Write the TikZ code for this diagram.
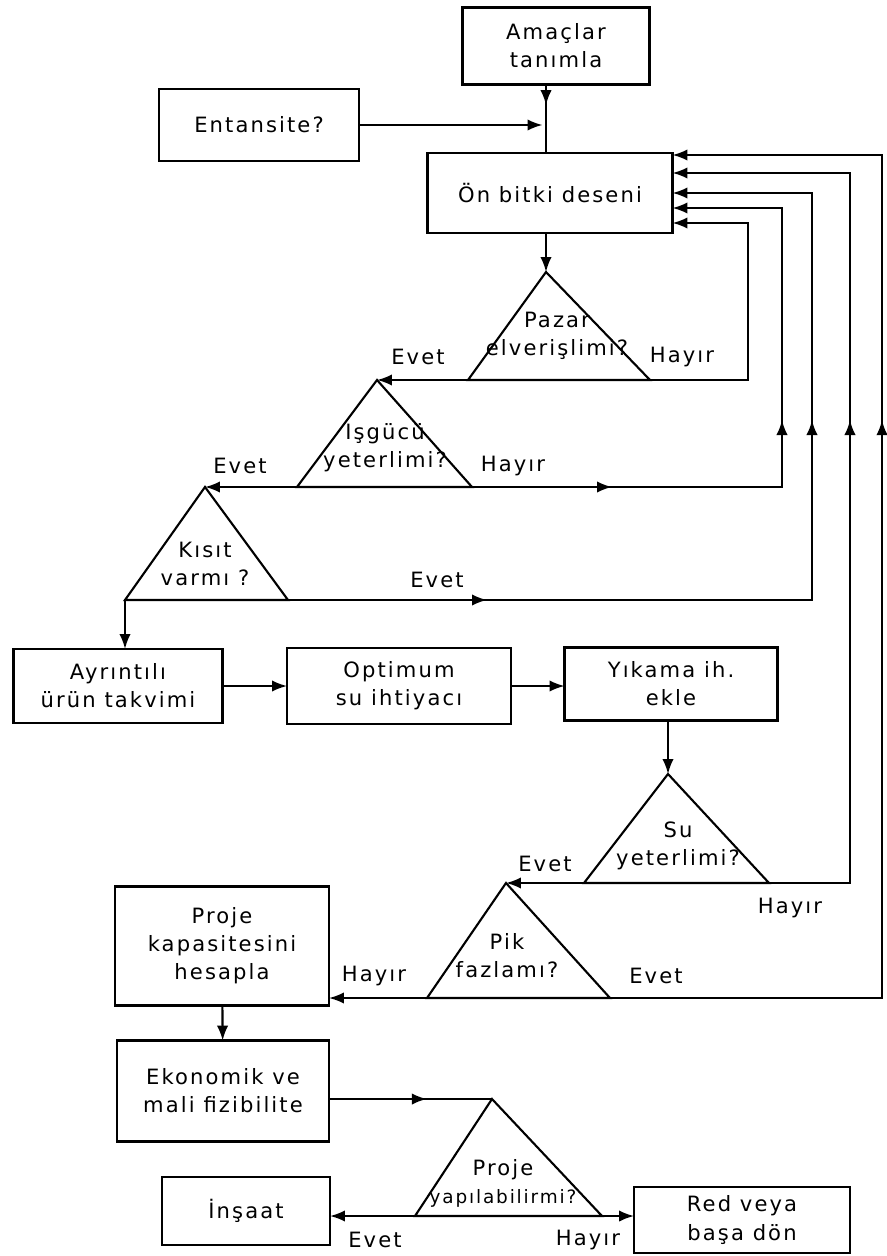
\documentclass[tikz,border=0pt]{standalone}
\usepackage{fontspec}
\usepackage{tikz}
\usetikzlibrary{arrows.meta,decorations.markings,calc}
\newfontfamily\lett[LetterSpace=10]{DejaVu Sans}

\begin{document}
\begin{tikzpicture}[x=0.02cm,y=-0.02cm,very thick,>={Latex[length=8.5pt,width=6.5pt]},
  every node/.style={font=\lett\fontsize{12}{16}\selectfont},
  midarrow/.style={postaction={decorate,decoration={markings,
      mark=at position #1 with {\arrow{Latex[length=8.5pt,width=6.5pt]}}}}}]

    \tikzstyle{box} = [rectangle,draw,align=center,outer sep=0pt]
    \tikzstyle{question} = [align=center,inner sep=1pt]

  \useasboundingbox (0,0) rectangle (886,1256);

  % boxes
  \node[box,minimum width=3.74cm,minimum height=1.54cm] (1) at (556,46) {Amaçlar\\tanımla};
  \node[box,minimum width=4cm,minimum height=1.44cm] (2) at (259,125) {Entansite?};
  \node[box,minimum width=4.9cm,minimum height=1.6cm] (3) at (550,193) {Ön bitki deseni};
  \node[box,minimum width=4.18cm,minimum height=1.48cm] (4) at (118,686) {Ayrıntılı\\ürün takvimi};
  \node[box,minimum width=4.48cm,minimum height=1.52cm] (5) at (399,686) {Optimum\\su ihtiyacı};
  \node[box,minimum width=4.26cm,minimum height=1.46cm] (6) at (671,684) {Yıkama ih.\\ekle};
  \node[box,minimum width=4.28cm,minimum height=2.38cm] (7) at (222,946) {Proje\\kapasitesini\\hesapla};
  \node[box,minimum width=4.24cm,minimum height=2.02cm] (8) at (223,1091) {Ekonomik ve\\mali fizibilite};
  \node[box,minimum width=3.36cm,minimum height=1.36cm] (9) at (246,1211) {İnşaat};
  \node[box,minimum width=4.32cm,minimum height=1.32cm] (10) at (742,1220) {Red veya\\başa dön};

  % decision triangles
  \coordinate (t1) at (546,272); \coordinate (l1) at (468,380); \coordinate (r1) at (650,380);
  \coordinate (t2) at (377,380); \coordinate (l2) at (297,487); \coordinate (r2) at (472,487);
  \coordinate (t3) at (205,487); \coordinate (l3) at (125,600); \coordinate (r3) at (288,600);
  \coordinate (t4) at (668,774); \coordinate (l4) at (584,883); \coordinate (r4) at (769,883);
  \coordinate (t5) at (506,883); \coordinate (l5) at (427,998); \coordinate (r5) at (610,998);
  \coordinate (t6) at (492,1099); \coordinate (l6) at (415,1216); \coordinate (r6) at (602,1216);

  \draw (t1) -- (l1) -- (r1) -- cycle;
  \draw (t2) -- (l2) -- (r2) -- cycle;
  \draw (t3) -- (l3) -- (r3) -- cycle;
  \draw (t4) -- (l4) -- (r4) -- cycle;
  \draw (t5) -- (l5) -- (r5) -- cycle;
  \draw (t6) -- (l6) -- (r6) -- cycle;

  \node[question] (q1) at (557,336) {Pazar\\elverişlimi?};
  \node[question] (q2) at (385,448) {Işgücü\\yeterlimi?};
  \node[question] (q3) at (205,564) {Kısıt\\varmı ?};
  \node[question] (q4) at (678,846) {Su\\yeterlimi?};
  \node[question] (q5) at (507,956) {Pik\\fazlamı?};
  \node[question] (q6) at (503,1183) {Proje\\\fontsize{10.5}{16}\selectfont yapılabilirmi?};

  % answers
  \node (e1) at (418,357) {Evet};
  \node (h1) at (682,357) {Hayır};
  \node (e2) at (240,466) {Evet};
  \node (h2) at (513,466) {Hayır};
  \node (e3) at (437,580) {Evet};
  \node (e4) at (545,864) {Evet};
  \node (h4) at (790,908) {Hayır};
  \node (h5) at (374,976) {Hayır};
  \node (e5) at (656,976) {Evet};
  \node (e6) at (375,1240) {Evet};
  \node (h6) at (588,1240) {Hayır};

  % return points on the right of (3) and their columns
  \coordinate (p1) at ($(3.east)+(0,-38)$);
  \coordinate (p2) at ($(3.east)+(0,-20)$);
  \coordinate (p3) at (3.east);
  \coordinate (p4) at ($(3.east)+(0,15)$);
  \coordinate (p5) at ($(3.east)+(0,30)$);
  \coordinate (v1) at (748,0);
  \coordinate (v2) at (782,0);
  \coordinate (v3) at (812,0);
  \coordinate (v4) at (850,0);
  \coordinate (v5) at (882,0);
  \coordinate (j) at (546,125);

  \draw[midarrow=0.3] (j |- 1.south) -- (j |- 3.north);
  \draw[->,shorten >=2pt] (2) -- (j);
  \draw[->] (3.south -| t1) -- (t1);
  \draw[->] (l1) -- (t2);
  \draw[->] (l2) -- (t3);
  \draw[->] (l3) -- (4.north -| l3);
  \draw[->] (4) -- (5);
  \draw[->] (5.east) -- (5.east -| 6.west);
  \draw[->] (6.south -| t4) -- (t4);
  \draw[->] (l4) -- (t5);
  \draw[->] (l5) -- (l5 -| 7.east);
  \draw[->] (7) -- (8);
  \draw[midarrow=0.6] (t6 -| 8.east) -- (t6);
  \draw[->] (l6) -- (l6 -| 9.east);
  \draw[->] (r6) -- (r6 -| 10.west);

  \draw[->] (r1) -| (p5 -| v1) -- (p5);
  \draw[->,midarrow=2.8cm,midarrow=7.54cm] (r2) -| (p4 -| v2) -- (p4);
  \draw[->,midarrow=3.98cm,midarrow=14.08cm] (r3) -| (p3 -| v3) -- (p3);
  \draw[->,midarrow=10.88cm] (r4) -| (p2 -| v4) -- (p2);
  \draw[->,midarrow=17cm] (r5) -| (p1 -| v5) -- (p1);

\end{tikzpicture}
\end{document}
